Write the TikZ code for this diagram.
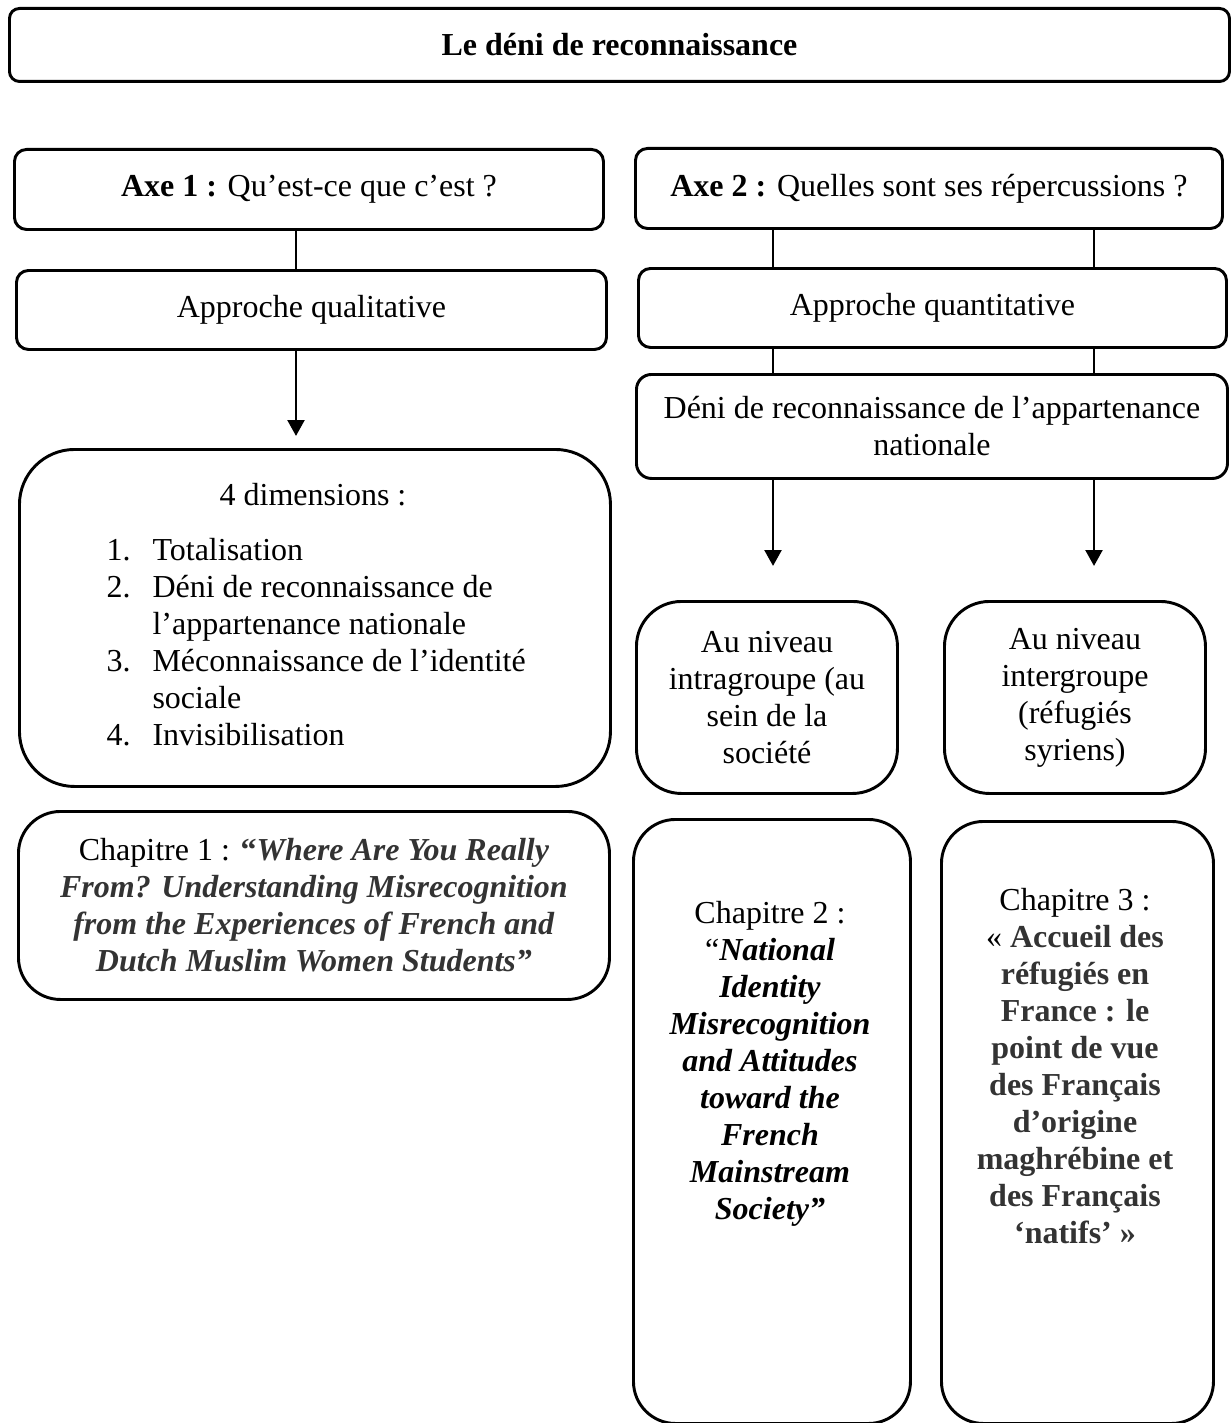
\documentclass[tikz,border=0pt]{standalone}
\usepackage{fontspec}
\setmainfont{Liberation Serif}
\usetikzlibrary{arrows.meta}
\newcommand\fsz{\fontsize{12pt}{13.875pt}\selectfont}
\newcommand\bi[1]{\textbf{\textit{#1}}}
\definecolor{dgray}{gray}{0.2}
\begin{document}
\begin{tikzpicture}[x=0.375pt,y=-0.375pt,
  box/.style={draw, line width=1.1pt, inner sep=0pt, align=center, anchor=north west, font=\fsz},
  sz/.style 2 args={minimum width=#1*0.375pt, minimum height=#2*0.375pt},
  rc/.style={rounded corners=#1*0.375pt},
  txt/.style={inner sep=0pt, align=center, font=\fsz},
  conn/.style={line width=1.1pt},
  arr/.style={line width=1.1pt, -{Triangle[width=6.3pt,length=6pt]}}]
\useasboundingbox (0,0) rectangle (1231,1423);

% boxes
\node[box, rc=10, sz={1220}{73}] (title) at (8,7) {\textbf{Le déni de reconnaissance}};
\node[box, rc=12, sz={589}{80}] (axe1) at (13,148) {\textbf{Axe 1 :} Qu’est-ce que c’est ?};
\node[box, rc=12, sz={587}{80}] (axe2) at (634,147) {\textbf{Axe 2 :} Quelles sont ses répercussions ?};
\node[box, rc=12, sz={590}{79}] (qual) at (15,269) {Approche qualitative};
\node[box, rc=12, sz={588}{79}] (quant) at (637,267) {Approche quantitative};
\node[box, rc=15, sz={591}{104}] (deni) at (635,373) {Déni de reconnaissance de l’appartenance\\nationale};
\node[box, rc=55, sz={591}{337}] (dims) at (18,448) {};
\node[box, rc=42, sz={591}{188}] (ch1) at (17,810) {Chapitre 1 : \textcolor{dgray}{\textbf{“}\bi{Where Are You Really}}\\
  \textcolor{dgray}{\bi{From? Understanding Misrecognition}}\\
  \textcolor{dgray}{\bi{from the Experiences of French and}}\\
  \textcolor{dgray}{\bi{Dutch Muslim Women Students”}}};
\node[box, rc=45, sz={261}{192}] (intra) at (635,600) {Au niveau\\intragroupe (au\\sein de la\\société};
\node[box, rc=45, sz={261}{192}] (inter) at (943,600) {Au niveau\\intergroupe\\(réfugiés\\syriens)};
\node[box, rc=42, sz={277}{604}] (ch2) at (632,818) {};
\node[box, rc=42, sz={272}{602}] (ch3) at (940,820) {};

% texts inside tall boxes
\node[txt] (dimshead) at (313,495) {4 dimensions :};
\node[txt, align=left, anchor=west] (dimlist) at (106,642.5) {%
  \makebox[17.25pt][l]{1.}Totalisation\\
  \makebox[17.25pt][l]{2.}Déni de reconnaissance de\\
  \hspace*{17.25pt}l’appartenance nationale\\
  \makebox[17.25pt][l]{3.}Méconnaissance de l’identité\\
  \hspace*{17.25pt}sociale\\
  \makebox[17.25pt][l]{4.}Invisibilisation};
\node[txt] (ch2t) at (770,1064) {Chapitre 2 :\\
  “\bi{National}\\ \bi{Identity}\\ \bi{Misrecognition}\\ \bi{and Attitudes}\\
  \bi{toward the}\\ \bi{French}\\ \bi{Mainstream}\\ \bi{Society”}};
\node[txt] (ch3t) at (1075,1066.5) {Chapitre 3 :\\
  «~\textcolor{dgray}{\textbf{Accueil des}}\\
  \textcolor{dgray}{\textbf{réfugiés en}}\\
  \textcolor{dgray}{\textbf{France : le}}\\
  \textcolor{dgray}{\textbf{point de vue}}\\
  \textcolor{dgray}{\textbf{des Français}}\\
  \textcolor{dgray}{\textbf{d’origine}}\\
  \textcolor{dgray}{\textbf{maghrébine et}}\\
  \textcolor{dgray}{\textbf{des Français}}\\
  \textcolor{dgray}{\textbf{‘natifs’~»}}};

% connector x positions and free arrow ends
\coordinate (xl) at (296,0);
\coordinate (xa) at (773,0);
\coordinate (xb) at (1094,0);
\coordinate (endl) at (296,436);
\coordinate (enda) at (773,566);
\coordinate (endb) at (1094,566);

\draw[conn] (axe1.south -| xl) -- (qual.north -| xl);
\draw[arr] (qual.south -| xl) -- (endl);
\draw[conn] (axe2.south -| xa) -- (quant.north -| xa);
\draw[conn] (axe2.south -| xb) -- (quant.north -| xb);
\draw[conn] (quant.south -| xa) -- (deni.north -| xa);
\draw[conn] (quant.south -| xb) -- (deni.north -| xb);
\draw[arr] (deni.south -| xa) -- (enda);
\draw[arr] (deni.south -| xb) -- (endb);
\end{tikzpicture}
\end{document}
